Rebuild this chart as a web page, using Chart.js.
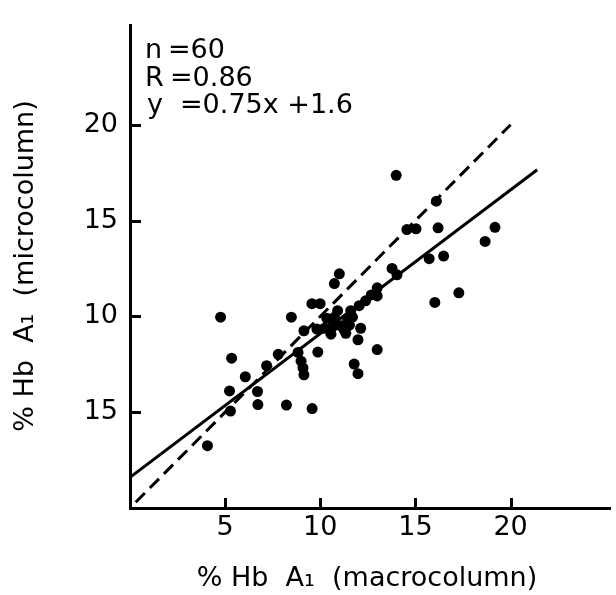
<!DOCTYPE html>
<html>
<head>
<meta charset="utf-8">
<script src="https://cdn.jsdelivr.net/npm/chart.js@4"></script>
<style>
  body { margin: 0; background: #fff; }
  #wrap { width: 616px; height: 595px; position: relative; }
</style>
</head>
<body>
<div id="wrap"><canvas id="hbChart"></canvas></div>
<script>
// macrocolumn (x) vs microcolumn (y) % Hb A1, 60 samples
const macroVals = [
  4.07, 5.28, 5.23, 5.34, 4.76, 6.06, 6.70, 6.72, 7.18, 7.79,
  8.22, 8.48, 8.83, 8.99, 9.09, 9.14, 9.14, 9.57, 9.87, 9.82,
  9.56, 9.99, 10.74, 11.00, 10.74, 10.65, 10.56, 11.08, 11.34, 11.69,
  12.04, 12.38, 12.99, 12.99, 13.77, 14.03, 12.12, 11.98, 12.99, 11.78,
  11.98, 13.99, 16.10, 14.55, 15.03, 16.19, 19.18, 18.66, 15.72, 16.48,
  17.28, 16.02, 11.60, 10.91, 11.43, 11.26, 10.22, 12.68, 10.34, 11.53
];
const microVals = [
  3.25, 5.06, 6.11, 7.82, 9.96, 6.85, 6.08, 5.40, 7.43, 8.02,
  5.37, 9.96, 8.12, 7.66, 7.31, 6.95, 9.25, 5.19, 8.14, 9.34,
  10.66, 10.66, 11.71, 12.22, 9.95, 9.46, 9.07, 9.51, 9.12, 9.96,
  10.56, 10.81, 11.49, 11.07, 12.50, 12.17, 9.38, 8.78, 8.27, 7.51,
  7.01, 17.36, 16.01, 14.53, 14.57, 14.62, 14.65, 13.91, 13.01, 13.15,
  11.23, 10.73, 10.30, 10.30, 9.88, 9.29, 9.38, 11.12, 9.90, 9.54
];

// regression line (solid) and line of identity (dashed), endpoints as drawn
const fitX = [0, 21.4];
const fitY = [1.6, 17.65];
const identX = [0.3, 20];
const identY = [0.3, 20];

const xTickValues = [5, 10, 15, 20];
const xTickLabels = ['5', '10', '15', '20'];
const yTickValues = [5, 10, 15, 20];
const yTickLabels = ['15', '10', '15', '20'];

const statLines = [['n', '=60'], ['R', '=0.86'], ['y', '=0.75x +1.6']];
const xTitle = '% Hb  A\u2081  (macrocolumn)';
const yTitle = '% Hb  A\u2081  (microcolumn)';

const FONT = '"DejaVu Sans", "Liberation Sans", sans-serif';

const toPoints = (xs, ys) => xs.map((x, i) => ({ x, y: ys[i] }));

const decor = {
  id: 'decor',
  afterDraw(chart) {
    const { ctx, chartArea: a, scales: { x, y } } = chart;
    ctx.save();
    ctx.strokeStyle = '#000';
    ctx.lineWidth = 3;
    ctx.lineCap = 'butt';
    // inward tick marks
    xTickValues.forEach(v => {
      const px = Math.round(x.getPixelForValue(v)) + 0.5;
      ctx.beginPath(); ctx.moveTo(px, a.bottom); ctx.lineTo(px, a.bottom - 10); ctx.stroke();
    });
    yTickValues.forEach(v => {
      const py = Math.round(y.getPixelForValue(v)) + 0.5;
      ctx.beginPath(); ctx.moveTo(a.left, py); ctx.lineTo(a.left + 11, py); ctx.stroke();
    });

    ctx.fillStyle = '#000';
    ctx.font = '27px ' + FONT;
    ctx.textBaseline = 'alphabetic';
    ctx.textAlign = 'left';
    const rowY = [58, 86, 113];
    const rowX = [[145, 168], [145, 170], [147, 180]];
    statLines.forEach((parts, i) => {
      ctx.fillText(parts[0], rowX[i][0], rowY[i]);
      ctx.fillText(parts[1], rowX[i][1], rowY[i]);
    });

    ctx.textAlign = 'center';
    ctx.textBaseline = 'middle';
    ctx.fillText(xTitle, 367, 579);
    ctx.translate(26, 266);
    ctx.rotate(-Math.PI / 2);
    ctx.fillText(yTitle, 0, 0);
    ctx.restore();
  }
};

const axisBase = {
  type: 'linear',
  min: 0,
  grid: { display: false, drawTicks: false },
  border: { display: true, color: '#000', width: 3 },
};

new Chart(document.getElementById('hbChart'), {
  data: {
    datasets: [
      {
        type: 'scatter',
        data: toPoints(macroVals, microVals),
        backgroundColor: '#000',
        borderWidth: 0,
        pointRadius: 5.5,
        pointHoverRadius: 5.5,
      },
      {
        type: 'line',
        data: toPoints(fitX, fitY),
        borderColor: '#000',
        borderWidth: 3,
        pointRadius: 0,
        fill: false,
      },
      {
        type: 'line',
        data: toPoints(identX, identY),
        borderColor: '#000',
        borderWidth: 3,
        borderDash: [13, 7],
        pointRadius: 0,
        fill: false,
      },
    ],
  },
  options: {
    responsive: true,
    maintainAspectRatio: false,
    animation: false,
    layout: { padding: { top: 12, right: 0, left: 0, bottom: 0 } },
    plugins: { legend: { display: false }, tooltip: { enabled: false } },
    scales: {
      x: {
        ...axisBase,
        max: 25.25,
        afterBuildTicks: s => { s.ticks = xTickValues.map(v => ({ value: v })); },
        afterFit: s => { s.height = 87; },
        ticks: {
          autoSkip: false,
          maxRotation: 0,
          padding: 6,
          color: '#000',
          font: { family: FONT, size: 27, lineHeight: 1 },
          callback: v => xTickLabels[xTickValues.indexOf(v)],
        },
      },
      y: {
        ...axisBase,
        max: 25.18,
        afterBuildTicks: s => { s.ticks = yTickValues.map(v => ({ value: v })); },
        afterFit: s => { s.width = 130; },
        ticks: {
          autoSkip: false,
          padding: 12,
          color: '#000',
          font: { family: FONT, size: 27, lineHeight: 1 },
          callback: v => yTickLabels[yTickValues.indexOf(v)],
        },
      },
    },
  },
  plugins: [decor],
});
</script>
</body>
</html>
